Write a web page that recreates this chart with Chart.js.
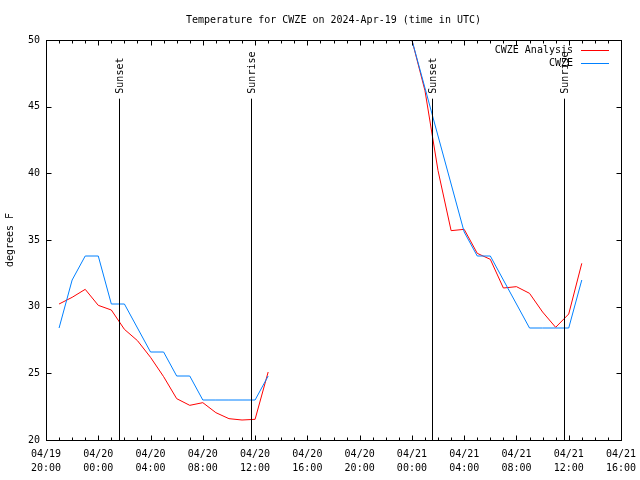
<!DOCTYPE html>
<html lang="en">
<head>
    <meta charset="UTF-8">
    <title>Temperature for CWZE</title>
    <script src="https://cdn.jsdelivr.net/npm/chart.js@4.4.1/dist/chart.umd.min.js"></script>
    <style>
        body { margin: 0; background: #fff; }
        canvas { display: block; }
    </style>
</head>
<body>
    <canvas id="graph" width="640" height="480"></canvas>

    <script>
        // hours after 04/19 20:00 UTC
        const hours = [1, 2, 3, 4, 5, 6, 7, 8, 9, 10, 11, 12, 13, 14, 15, 16, 17,
                       28, 29, 30, 31, 32, 33, 34, 35, 36, 37, 38, 39, 40, 41];
        const analysisTemps = [30.2, 30.7, 31.3, 30.1, 29.75, 28.3, 27.45, 26.2, 24.75, 23.1, 22.6, 22.8, 22.05, 21.6, 21.5, 21.55, 25.1,
                               50.0, 46.2, 40.2, 35.7, 35.8, 34.0, 33.55, 31.4, 31.5, 31.0, 29.6, 28.45, 29.45, 33.25];
        const obsTemps = [28.4, 32.0, 33.8, 33.8, 30.2, 30.2, 28.4, 26.6, 26.6, 24.8, 24.8, 23.0, 23.0, 23.0, 23.0, 23.0, 24.8,
                          50.0, 46.4, 42.8, 39.2, 35.6, 33.8, 33.8, 32.0, 30.2, 28.4, 28.4, 28.4, 28.4, 32.0];
        const seriesNames = ['CWZE Analysis', 'CWZE'];
        const seriesColors = ['#ff0000', '#0080ff'];

        const tickDates = ['04/19', '04/20', '04/20', '04/20', '04/20', '04/20', '04/20', '04/21', '04/21', '04/21', '04/21', '04/21'];
        const tickTimes = ['20:00', '00:00', '04:00', '08:00', '12:00', '16:00', '20:00', '00:00', '04:00', '08:00', '12:00', '16:00'];

        const sunHours = [5.55, 15.65, 29.57, 39.65];
        const sunLabels = ['Sunset', 'Sunrise', 'Sunset', 'Sunrise'];
        const sunLineTop = 45.6;

        const FONT = "'DejaVu Sans Mono', monospace";

        // build {x,y} points, break the line where hours jump
        function toPoints(temps) {
            const pts = [];
            for (let i = 0; i < hours.length; i++) {
                if (i > 0 && hours[i] - hours[i - 1] > 1) {
                    pts.push({ x: (hours[i] + hours[i - 1]) / 2, y: null });
                }
                pts.push({ x: hours[i], y: temps[i] });
            }
            return pts;
        }

        // frame, inward ticks, sunrise/sunset markers, legend
        const gnuplotLook = {
            id: 'gnuplotLook',
            afterDatasetsDraw(chart) {
                const ctx = chart.ctx;
                const a = chart.chartArea;
                const xs = chart.scales.x, ys = chart.scales.y;
                const L = Math.round(a.left) + 0.5, R = Math.round(a.right) + 0.5;
                const T = Math.round(a.top) + 0.5, B = Math.round(a.bottom) + 0.5;
                ctx.save();
                ctx.strokeStyle = '#000';
                ctx.lineWidth = 1;

                // sunrise / sunset
                ctx.font = '10px ' + FONT;
                ctx.fillStyle = '#000';
                sunHours.forEach((h, i) => {
                    const px = Math.round(xs.getPixelForValue(h)) + 0.5;
                    const top = ys.getPixelForValue(sunLineTop);
                    ctx.beginPath();
                    ctx.moveTo(px, top);
                    ctx.lineTo(px, B);
                    ctx.stroke();
                    ctx.save();
                    ctx.translate(px + 1, top - 5);
                    ctx.rotate(-Math.PI / 2);
                    ctx.textAlign = 'left';
                    ctx.textBaseline = 'middle';
                    ctx.fillText(sunLabels[i], 0, 0);
                    ctx.restore();
                });

                // frame
                ctx.strokeRect(L, T, R - L, B - T);

                // x ticks (hourly minor, 4-hourly major)
                ctx.beginPath();
                xs.ticks.forEach(t => {
                    const px = Math.round(xs.getPixelForValue(t.value)) + 0.5;
                    const len = t.value % 4 === 0 ? 5 : 3;
                    ctx.moveTo(px, B); ctx.lineTo(px, B - len);
                    ctx.moveTo(px, T); ctx.lineTo(px, T + len);
                });
                ys.ticks.forEach(t => {
                    const py = Math.round(ys.getPixelForValue(t.value)) + 0.5;
                    ctx.moveTo(L, py); ctx.lineTo(L + 5, py);
                    ctx.moveTo(R, py); ctx.lineTo(R - 5, py);
                });
                ctx.stroke();

                // legend inside top right
                ctx.font = '10px ' + FONT;
                ctx.textAlign = 'right';
                ctx.textBaseline = 'middle';
                chart.data.datasets.forEach((ds, i) => {
                    const y = Math.round(a.top + 10 + i * 12.5) + 0.5;
                    ctx.fillStyle = '#000';
                    ctx.fillText(ds.label, a.right - 48, y);
                    ctx.strokeStyle = ds.borderColor;
                    ctx.beginPath();
                    ctx.moveTo(a.right - 40, y);
                    ctx.lineTo(a.right - 12, y);
                    ctx.stroke();
                });
                ctx.restore();
            }
        };

        const ctx = document.getElementById('graph').getContext('2d');
        new Chart(ctx, {
            type: 'line',
            data: {
                datasets: [{
                    label: seriesNames[0],
                    data: toPoints(analysisTemps),
                    borderColor: seriesColors[0],
                    borderWidth: 1,
                    pointRadius: 0,
                    spanGaps: false,
                    order: 1
                }, {
                    label: seriesNames[1],
                    data: toPoints(obsTemps),
                    borderColor: seriesColors[1],
                    borderWidth: 1,
                    pointRadius: 0,
                    spanGaps: false,
                    order: 0
                }]
            },
            options: {
                responsive: false,
                animation: false,
                layout: { padding: { left: 0, right: 19, top: 0, bottom: 0 } },
                plugins: {
                    legend: { display: false },
                    tooltip: { enabled: false },
                    title: {
                        display: true,
                        fullSize: false,
                        text: 'Temperature for CWZE on 2024-Apr-19 (time in UTC)',
                        color: '#000',
                        font: { family: FONT, size: 10, weight: 'normal', lineHeight: 1.2 },
                        padding: { top: 14, bottom: 14 }
                    }
                },
                scales: {
                    x: {
                        type: 'linear',
                        min: 0,
                        max: 44,
                        grid: { display: false, drawTicks: false },
                        border: { display: false },
                        afterFit: s => { s.height = 40; s.paddingLeft = 0; s.paddingRight = 0; },
                        ticks: {
                            stepSize: 1,
                            autoSkip: false,
                            maxRotation: 0,
                            padding: 7,
                            color: '#000',
                            font: { family: FONT, size: 10, lineHeight: 1.4 },
                            callback: v => (v % 4 === 0 ? [tickDates[v / 4], tickTimes[v / 4]] : '')
                        }
                    },
                    y: {
                        min: 20,
                        max: 50,
                        grid: { display: false, drawTicks: false },
                        border: { display: false },
                        afterFit: s => { s.width = 46; s.paddingTop = 0; s.paddingBottom = 0; },
                        title: {
                            display: true,
                            text: 'degrees F',
                            color: '#000',
                            font: { family: FONT, size: 10, lineHeight: 1.2 },
                            padding: { top: 4, bottom: 0 }
                        },
                        ticks: {
                            stepSize: 5,
                            padding: 6,
                            color: '#000',
                            font: { family: FONT, size: 10 }
                        }
                    }
                }
            },
            plugins: [gnuplotLook]
        });
    </script>
</body>
</html>
